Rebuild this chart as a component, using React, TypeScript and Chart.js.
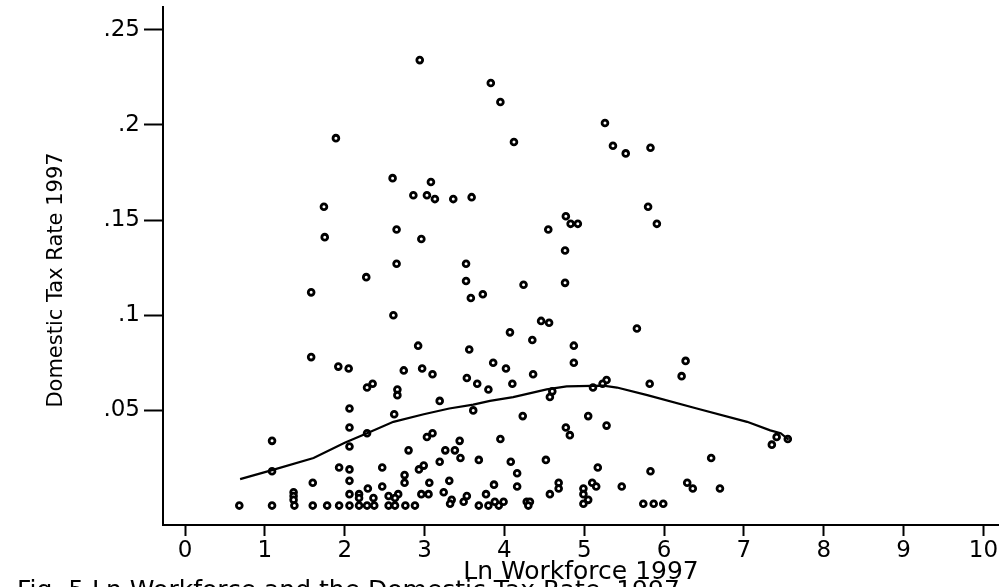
import React, { useEffect, useRef } from "react";
import { Chart, registerables } from "chart.js";

Chart.register(...registerables);

// Scatter points: Ln Workforce 1997 (x) vs Domestic Tax Rate 1997 (y)
const scatterX: number[] = [
  2.94, 3.83, 3.95, 1.89, 4.12, 5.26, 5.36, 5.52, 5.83, 2.60,
  3.08, 2.86, 3.03, 3.13, 3.36, 3.59, 1.74, 1.75, 2.65, 2.96,
  2.65, 3.52, 2.27, 3.52, 1.58, 3.73, 3.58, 2.61, 2.92, 3.56,
  1.58, 1.92, 2.05, 2.74, 2.97, 3.10, 3.53, 3.66, 3.80, 2.28,
  2.35, 2.66, 2.66, 5.80, 5.91, 4.77, 4.83, 4.92, 4.55, 4.76,
  4.76, 4.24, 5.66, 4.46, 4.56, 4.07, 4.35, 4.87, 4.87, 3.86,
  4.02, 4.36, 6.27, 6.22, 4.10, 5.28, 5.23, 5.82, 4.57, 4.60,
  5.11, 1.09, 2.06, 2.06, 2.28, 2.62, 3.19, 3.61, 2.06, 1.09,
  1.93, 2.06, 2.06, 1.60, 2.47, 2.47, 2.80, 2.75, 2.75, 3.03,
  3.10, 2.93, 2.99, 3.26, 3.19, 3.38, 3.45, 3.44, 3.68, 3.06,
  3.31, 2.96, 3.05, 3.24, 2.06, 2.18, 2.29, 2.18, 2.36, 2.55,
  2.67, 2.63, 1.36, 1.36, 1.36, 3.34, 3.32, 3.53, 3.49, 3.77,
  0.68, 1.09, 1.37, 1.60, 1.78, 1.93, 2.06, 2.18, 2.28, 2.37,
  2.55, 2.63, 2.76, 2.88, 3.68, 3.80, 4.23, 5.05, 5.28, 4.77,
  4.82, 3.95, 7.35, 7.41, 7.55, 4.08, 4.52, 4.16, 5.17, 5.83,
  6.59, 4.16, 3.87, 4.68, 4.68, 4.57, 4.99, 4.99, 5.05, 4.99,
  5.10, 5.15, 5.47, 6.29, 6.36, 6.70, 3.93, 3.88, 3.99, 4.28,
  4.32, 4.30, 5.74, 5.87, 5.99,
];
const scatterY: number[] = [
  0.234, 0.222, 0.212, 0.193, 0.191, 0.201, 0.189, 0.185, 0.188, 0.172,
  0.170, 0.163, 0.163, 0.161, 0.161, 0.162, 0.157, 0.141, 0.145, 0.140,
  0.127, 0.127, 0.120, 0.118, 0.112, 0.111, 0.109, 0.100, 0.084, 0.082,
  0.078, 0.073, 0.072, 0.071, 0.072, 0.069, 0.067, 0.064, 0.061, 0.062,
  0.064, 0.061, 0.058, 0.157, 0.148, 0.152, 0.148, 0.148, 0.145, 0.134,
  0.117, 0.116, 0.093, 0.097, 0.096, 0.091, 0.087, 0.084, 0.075, 0.075,
  0.072, 0.069, 0.076, 0.068, 0.064, 0.066, 0.064, 0.064, 0.057, 0.060,
  0.062, 0.034, 0.051, 0.041, 0.038, 0.048, 0.055, 0.050, 0.031, 0.018,
  0.020, 0.019, 0.013, 0.012, 0.020, 0.010, 0.029, 0.016, 0.012, 0.036,
  0.038, 0.019, 0.021, 0.029, 0.023, 0.029, 0.025, 0.034, 0.024, 0.012,
  0.013, 0.006, 0.006, 0.007, 0.006, 0.006, 0.009, 0.004, 0.004, 0.005,
  0.006, 0.004, 0.007, 0.005, 0.003, 0.003, 0.001, 0.005, 0.002, 0.006,
  0.000, 0.000, 0.000, 0.000, 0.000, 0.000, 0.000, 0.000, 0.000, 0.000,
  0.000, 0.000, 0.000, 0.000, 0.000, 0.000, 0.047, 0.047, 0.042, 0.041,
  0.037, 0.035, 0.032, 0.036, 0.035, 0.023, 0.024, 0.017, 0.020, 0.018,
  0.025, 0.010, 0.011, 0.012, 0.009, 0.006, 0.009, 0.006, 0.003, 0.001,
  0.012, 0.010, 0.010, 0.012, 0.009, 0.009, 0.000, 0.002, 0.002, 0.002,
  0.002, 0.000, 0.001, 0.001, 0.001,
];

// Smoothed (lowess) curve
const lowessX: number[] = [
  0.69, 1.09, 1.61, 2.0, 2.28, 2.61, 2.99, 3.31, 3.61, 3.82, 4.11, 4.53,
  4.78, 5.24, 5.41, 5.79, 6.41, 7.04, 7.33, 7.46, 7.56,
];
const lowessY: number[] = [
  0.0139, 0.0186, 0.025, 0.033, 0.038, 0.044, 0.048, 0.051, 0.053, 0.055,
  0.057, 0.061, 0.0626, 0.063, 0.062, 0.058, 0.051, 0.044, 0.0395, 0.038,
  0.0347,
];

const xTicks: number[] = [0, 1, 2, 3, 4, 5, 6, 7, 8, 9, 10];
const yTicks: number[] = [0.05, 0.1, 0.15, 0.2, 0.25];

const xTitle = "Ln Workforce 1997";
const yTitle = "Domestic Tax Rate 1997";
const caption = "Fig. 5 Ln Workforce and the Domestic Tax Rate, 1997";

const FONT = "'DejaVu Sans', 'Liberation Sans', Arial, sans-serif";

export default function App() {
  const ref = useRef<HTMLCanvasElement | null>(null);

  useEffect(() => {
    if (!ref.current) return;
    const textPlugin = {
      id: "customText",
      afterDraw(chart: any) {
        const ctx = chart.ctx;
        const area = chart.chartArea;
        ctx.save();
        // extend the x axis line to the right edge of the picture
        ctx.strokeStyle = "#000";
        ctx.lineWidth = 2;
        ctx.beginPath();
        ctx.moveTo(area.right - 1, area.bottom);
        ctx.lineTo(chart.width, area.bottom);
        ctx.stroke();
        ctx.fillStyle = "#000";
        // y title
        ctx.save();
        ctx.translate(57, 280);
        ctx.rotate(-Math.PI / 2);
        ctx.font = `21px ${FONT}`;
        ctx.textAlign = "center";
        ctx.textBaseline = "middle";
        ctx.fillText(yTitle, 0, 0);
        ctx.restore();
        // x title
        ctx.font = `25px ${FONT}`;
        ctx.textAlign = "center";
        ctx.textBaseline = "alphabetic";
        ctx.fillText(xTitle, 581, 579);
        // caption (cut off at the bottom)
        ctx.textAlign = "left";
        ctx.fillText(caption, 17, 598);
        ctx.restore();
      },
    };

    const chart = new Chart(ref.current, {
      type: "scatter",
      data: {
        datasets: [
          {
            type: "line" as any,
            data: lowessX.map((x, i) => ({ x, y: lowessY[i] })),
            borderColor: "#000",
            borderWidth: 2.2,
            pointRadius: 0,
            fill: false,
            tension: 0,
          },
          {
            data: scatterX.map((x, i) => ({ x, y: scatterY[i] })),
            borderColor: "#000",
            backgroundColor: "#fff",
            borderWidth: 2.8,
            pointRadius: 2.9,
          },
        ],
      },
      options: {
        responsive: false,
        animation: false,
        events: [],
        layout: { padding: { top: 5, left: 0, right: 0, bottom: 0 } },
        plugins: {
          legend: { display: false },
          tooltip: { enabled: false },
        },
        scales: {
          x: {
            type: "linear",
            min: -0.2757,
            max: 10.11,
            afterFit: (s: any) => {
              s.height = 62;
              s.paddingLeft = 0;
              s.paddingRight = 0;
            },
            afterBuildTicks: (s: any) => {
              s.ticks = xTicks.map((v) => ({ value: v }));
            },
            ticks: {
              color: "#000",
              font: { family: FONT, size: 23 },
              padding: 1,
              maxRotation: 0,
              autoSkip: false,
              callback: (v: any) => String(v),
            },
            grid: {
              drawOnChartArea: false,
              drawTicks: true,
              tickLength: 11,
              tickColor: "#000",
              tickWidth: 2,
            },
            border: { display: true, color: "#000", width: 2 },
          },
          y: {
            type: "linear",
            min: -0.0102,
            max: 0.262,
            afterFit: (s: any) => {
              s.width = 163;
              s.paddingTop = 0;
              s.paddingBottom = 0;
            },
            afterBuildTicks: (s: any) => {
              s.ticks = yTicks.map((v) => ({ value: v }));
            },
            ticks: {
              color: "#000",
              font: { family: FONT, size: 23 },
              padding: 4,
              autoSkip: false,
              callback: (v: any) => String(+Number(v).toFixed(2)).replace(/^0/, ""),
            },
            grid: {
              drawOnChartArea: false,
              drawTicks: true,
              tickLength: 19,
              tickColor: "#000",
              tickWidth: 2,
            },
            border: { display: true, color: "#000", width: 2 },
          },
        },
      },
      plugins: [textPlugin],
    } as any);
    return () => chart.destroy();
  }, []);

  return (
    <div
      style={{
        position: "fixed",
        left: 0,
        top: 0,
        width: 999,
        height: 587,
        background: "#fff",
        overflow: "hidden",
      }}
    >
      <canvas ref={ref} width={999} height={587} />
    </div>
  );
}
